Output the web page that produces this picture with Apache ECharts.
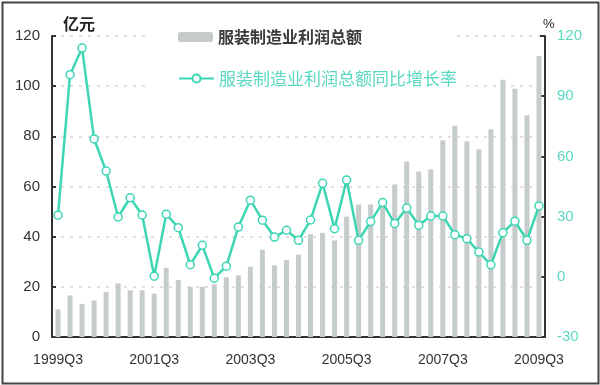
<!DOCTYPE html>
<html>
<head>
<meta charset="utf-8">
<script src="https://cdn.jsdelivr.net/npm/echarts@6/dist/echarts.min.js"></script>
<style>
html,body{margin:0;padding:0;background:#fff;}
#main{width:600px;height:385px;}
</style>
</head>
<body>
<div id="main"></div>
<script>
var categories = ['1999Q3','1999Q4','2000Q1','2000Q2','2000Q3','2000Q4','2001Q1','2001Q2','2001Q3','2001Q4',
  '2002Q1','2002Q2','2002Q3','2002Q4','2003Q1','2003Q2','2003Q3','2003Q4','2004Q1','2004Q2',
  '2004Q3','2004Q4','2005Q1','2005Q2','2005Q3','2005Q4','2006Q1','2006Q2','2006Q3','2006Q4',
  '2007Q1','2007Q2','2007Q3','2007Q4','2008Q1','2008Q2','2008Q3','2008Q4','2009Q1','2009Q2','2009Q3'];
var profitTotal = [11, 16.6, 13.2, 14.6, 18.0, 21.4, 18.6, 18.6, 17.3, 27.6,
  22.7, 20.0, 20.0, 21, 23.8, 24.6, 28.0, 34.8, 28.6, 30.7,
  32.8, 41, 41.5, 38.5, 48, 52.8, 52.8, 53, 60.8, 70,
  66, 66.8, 78.4, 84.2, 78, 74.8, 82.8, 102.6, 99, 88.4, 112];
var growthRate = [30.7, 100.7, 114, 68.7, 52.7, 29.8, 39.4, 30.8, 0.3, 31.2,
  24.5, 6, 15.7, -0.7, 5.3, 24.8, 38.2, 28.2, 19.8, 23.2,
  18.2, 28.3, 46.6, 24, 48.2, 18.2, 27.5, 37, 26.5, 34.3,
  25.7, 30.3, 30.3, 21, 19, 12.3, 6, 22, 27.7, 18.2, 35.3];
var seriesNames = ['服装制造业利润总额', '服装制造业利润总额同比增长率'];
var leftUnit = '亿元';
var rightUnit = '%';

var lineColor = '#3dd6b5';
var chart = echarts.init(document.getElementById('main'));
chart.setOption({
  animation: false,
  backgroundColor: '#fff',
  grid: {left: 52, right: 55, top: 36, bottom: 48},
  legend: [{
    data: [seriesNames[0]],
    left: 148, top: 20,
    padding: [9, 90, 7, 30],
    backgroundColor: '#fff',
    itemWidth: 35, itemHeight: 10, itemGap: 5,
    textStyle: {fontFamily: 'Noto Sans CJK SC', fontSize: 16, fontWeight: 'bold', color: '#3a3a3a'}
  }, {
    data: [seriesNames[1]],
    left: 148, top: 58,
    padding: [12, 5, 8, 30],
    backgroundColor: '#fff',
    itemWidth: 35, itemHeight: 10, itemGap: 5,
    textStyle: {fontFamily: 'Noto Sans CJK SC', fontSize: 17, color: '#5ad8c0'}
  }],
  xAxis: {
    type: 'category',
    data: categories,
    boundaryGap: true,
    axisLine: {lineStyle: {color: '#333', width: 2}},
    axisTick: {inside: true, interval: 1, length: 4, lineStyle: {color: '#333', width: 2}},
    axisLabel: {interval: 7, margin: 16, fontFamily: 'Liberation Sans', fontSize: 14, color: '#333'},
    splitLine: {show: false}
  },
  yAxis: [{
    type: 'value', min: 0, max: 120, interval: 20,
    axisLine: {show: true, lineStyle: {color: '#333', width: 2}},
    axisTick: {show: true, inside: true, length: 4, lineStyle: {color: '#333', width: 2}},
    axisLabel: {margin: 12, fontFamily: 'Liberation Sans', fontSize: 15, color: '#333'},
    splitLine: {show: true, lineStyle: {color: '#ddd3d6', type: [3, 6], width: 1.5}}
  }, {
    type: 'value', min: -30, max: 120, interval: 30,
    position: 'right',
    axisLine: {show: true, lineStyle: {color: '#333', width: 2}},
    axisTick: {show: true, inside: true, length: 5, lineStyle: {color: '#333', width: 2}},
    axisLabel: {margin: 12, fontFamily: 'Liberation Sans', fontSize: 15, color: '#5ad8c0'},
    splitLine: {show: false}
  }],
  graphic: [{
    type: 'text', left: 63, top: 16,
    style: {text: leftUnit, font: 'bold 16px "Noto Sans CJK SC"', fill: '#222'}
  }, {
    type: 'text', left: 543, top: 18,
    style: {text: rightUnit, font: '13px "Liberation Sans"', fill: '#222'}
  }, {
    type: 'rect', left: 0, top: 0, z: 100, silent: true,
    shape: {x: 1, y: 1, width: 596, height: 381},
    style: {fill: 'none', stroke: '#444', lineWidth: 2}
  }],
  series: [{
    name: seriesNames[0],
    type: 'bar',
    data: profitTotal,
    barWidth: 5,
    itemStyle: {color: '#c6cccc'},
    yAxisIndex: 0
  }, {
    name: seriesNames[1],
    type: 'line',
    data: growthRate,
    yAxisIndex: 1,
    symbol: 'circle',
    symbolSize: 8,
    lineStyle: {color: lineColor, width: 2.5},
    itemStyle: {color: '#fff', borderColor: lineColor, borderWidth: 1.5}
  }]
});
</script>
</body>
</html>
